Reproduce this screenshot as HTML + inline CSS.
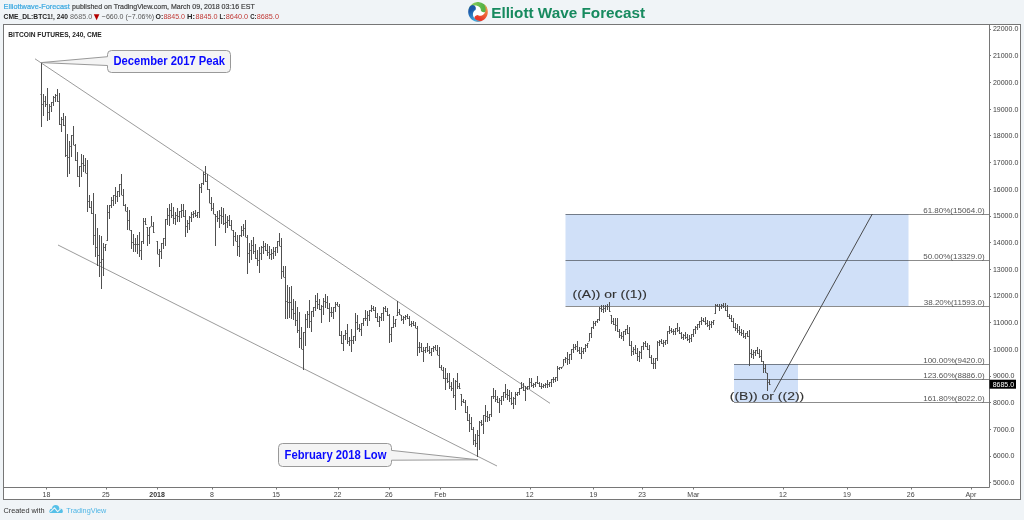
<!DOCTYPE html>
<html><head><meta charset="utf-8"><style>
html,body{margin:0;padding:0;}
body{width:1024px;height:520px;background:#f0f4f7;overflow:hidden;position:relative;font-family:"Liberation Sans", sans-serif;}
svg{position:absolute;left:0;top:0;will-change:transform;}
</style></head><body>
<svg width="1024" height="520" viewBox="0 0 1024 520" font-family='"Liberation Sans", sans-serif'>
<text x="3.6" y="9.4" font-size="8" fill="#3aa8e0" stroke="#3aa8e0" stroke-width="0.22" textLength="66.2" lengthAdjust="spacingAndGlyphs">Elliottwave-Forecast</text>
<text x="72.1" y="9.4" font-size="8" fill="#3a3a3a" stroke="#3a3a3a" stroke-width="0.18" textLength="182.6" lengthAdjust="spacingAndGlyphs">published on TradingView.com, March 09, 2018 03:16 EST</text>
<text x="3.6" y="19.2" font-size="8" fill="#222" font-weight="bold" textLength="64.3" lengthAdjust="spacingAndGlyphs">CME_DL:BTC1!, 240</text>
<text x="70.1" y="19.2" font-size="8" fill="#666" textLength="22.1" lengthAdjust="spacingAndGlyphs">8685.0</text>
<path d="M93.8 14.3H99.4L96.6 20.2Z" fill="#b30000"/>
<text x="101.8" y="19.2" font-size="8" fill="#555" textLength="52.3" lengthAdjust="spacingAndGlyphs">&#8722;660.0 (&#8722;7.06%)</text>
<text x="155.5" y="19.2" font-size="8" fill="#222" font-weight="bold" textLength="7.7" lengthAdjust="spacingAndGlyphs">O:</text>
<text x="163.4" y="19.2" font-size="8" fill="#c03a36" textLength="21.6" lengthAdjust="spacingAndGlyphs">8845.0</text>
<text x="187.1" y="19.2" font-size="8" fill="#222" font-weight="bold" textLength="8" lengthAdjust="spacingAndGlyphs">H:</text>
<text x="195.4" y="19.2" font-size="8" fill="#c03a36" textLength="22.1" lengthAdjust="spacingAndGlyphs">8845.0</text>
<text x="219.5" y="19.2" font-size="8" fill="#222" font-weight="bold" textLength="5.8" lengthAdjust="spacingAndGlyphs">L:</text>
<text x="225.8" y="19.2" font-size="8" fill="#c03a36" textLength="22.4" lengthAdjust="spacingAndGlyphs">8640.0</text>
<text x="250.2" y="19.2" font-size="8" fill="#222" font-weight="bold" textLength="6.3" lengthAdjust="spacingAndGlyphs">C:</text>
<text x="256.8" y="19.2" font-size="8" fill="#c03a36" textLength="22.1" lengthAdjust="spacingAndGlyphs">8685.0</text>
<defs><linearGradient id="gg" gradientUnits="userSpaceOnUse" x1="-9.37" y1="-2.87" x2="5.14" y2="-3.09"><stop offset="0" stop-color="#9ad464"/><stop offset="1" stop-color="#55b347"/></linearGradient><linearGradient id="go" gradientUnits="userSpaceOnUse" x1="-9.37" y1="-2.87" x2="5.14" y2="-3.09"><stop offset="0" stop-color="#f4a04c"/><stop offset="1" stop-color="#e8392a"/></linearGradient><linearGradient id="gb" gradientUnits="userSpaceOnUse" x1="-9.37" y1="-2.87" x2="5.14" y2="-3.09"><stop offset="0" stop-color="#4cc3f0"/><stop offset="1" stop-color="#1c58a8"/></linearGradient></defs><g transform="translate(478 11.9)"><circle r="9.4" fill="#fff"/><path d="M-9.73 -1.19 L-9.55 -2.22 L-9.26 -3.22 L-8.86 -4.18 L-8.37 -5.10 L-7.78 -5.95 L-7.11 -6.75 L-6.35 -7.46 L-5.53 -8.09 L-4.64 -8.63 L-3.70 -9.08 L-2.71 -9.42 L-1.70 -9.65 L-0.67 -9.78 L0.37 -9.79 L1.41 -9.70 L2.43 -9.49 L3.42 -9.18 L4.37 -8.77 L5.28 -8.26 L6.12 -7.65 L6.90 -6.96 L7.60 -6.19 L8.21 -5.35 L8.73 -4.45 L9.02 -3.64 L9.09 -2.78 L8.93 -1.93 L8.56 -1.15 L8.00 -0.50 L7.29 -0.01 L6.48 0.28 L5.62 0.34 L4.77 0.19 L3.99 -0.18 L3.34 -0.74 L2.85 -1.45 L2.85 -1.86 L2.81 -2.29 L2.72 -2.75 L2.57 -3.22 L2.36 -3.69 L2.07 -4.15 L1.71 -4.59 L1.28 -5.01 L0.78 -5.39 L0.22 -5.72 L-0.41 -5.98 L-1.09 -6.18 L-1.82 -6.31 L-2.58 -6.34 L-3.38 -6.29 L-4.19 -6.13 L-5.00 -5.87 L-5.81 -5.51 L-6.60 -5.05 L-7.35 -4.47 L-8.05 -3.80 L-8.69 -3.02 L-9.25 -2.15 L-9.73 -1.19Z" fill="url(#gg)"/><path d="M-9.73 -1.19 L-9.55 -2.22 L-9.26 -3.22 L-8.86 -4.18 L-8.37 -5.10 L-7.78 -5.95 L-7.11 -6.75 L-6.35 -7.46 L-5.53 -8.09 L-4.64 -8.63 L-3.70 -9.08 L-2.71 -9.42 L-1.70 -9.65 L-0.67 -9.78 L0.37 -9.79 L1.41 -9.70 L2.43 -9.49 L3.42 -9.18 L4.37 -8.77 L5.28 -8.26 L6.12 -7.65 L6.90 -6.96 L7.60 -6.19 L8.21 -5.35 L8.73 -4.45 L9.02 -3.64 L9.09 -2.78 L8.93 -1.93 L8.56 -1.15 L8.00 -0.50 L7.29 -0.01 L6.48 0.28 L5.62 0.34 L4.77 0.19 L3.99 -0.18 L3.34 -0.74 L2.85 -1.45 L2.85 -1.86 L2.81 -2.29 L2.72 -2.75 L2.57 -3.22 L2.36 -3.69 L2.07 -4.15 L1.71 -4.59 L1.28 -5.01 L0.78 -5.39 L0.22 -5.72 L-0.41 -5.98 L-1.09 -6.18 L-1.82 -6.31 L-2.58 -6.34 L-3.38 -6.29 L-4.19 -6.13 L-5.00 -5.87 L-5.81 -5.51 L-6.60 -5.05 L-7.35 -4.47 L-8.05 -3.80 L-8.69 -3.02 L-9.25 -2.15 L-9.73 -1.19Z" fill="url(#go)" transform="rotate(120)"/><path d="M-9.73 -1.19 L-9.55 -2.22 L-9.26 -3.22 L-8.86 -4.18 L-8.37 -5.10 L-7.78 -5.95 L-7.11 -6.75 L-6.35 -7.46 L-5.53 -8.09 L-4.64 -8.63 L-3.70 -9.08 L-2.71 -9.42 L-1.70 -9.65 L-0.67 -9.78 L0.37 -9.79 L1.41 -9.70 L2.43 -9.49 L3.42 -9.18 L4.37 -8.77 L5.28 -8.26 L6.12 -7.65 L6.90 -6.96 L7.60 -6.19 L8.21 -5.35 L8.73 -4.45 L9.02 -3.64 L9.09 -2.78 L8.93 -1.93 L8.56 -1.15 L8.00 -0.50 L7.29 -0.01 L6.48 0.28 L5.62 0.34 L4.77 0.19 L3.99 -0.18 L3.34 -0.74 L2.85 -1.45 L2.85 -1.86 L2.81 -2.29 L2.72 -2.75 L2.57 -3.22 L2.36 -3.69 L2.07 -4.15 L1.71 -4.59 L1.28 -5.01 L0.78 -5.39 L0.22 -5.72 L-0.41 -5.98 L-1.09 -6.18 L-1.82 -6.31 L-2.58 -6.34 L-3.38 -6.29 L-4.19 -6.13 L-5.00 -5.87 L-5.81 -5.51 L-6.60 -5.05 L-7.35 -4.47 L-8.05 -3.80 L-8.69 -3.02 L-9.25 -2.15 L-9.73 -1.19Z" fill="url(#gb)" transform="rotate(240)"/></g><text x="491.2" y="17.7" font-size="15.5" fill="#178a5f" font-weight="bold" textLength="154" lengthAdjust="spacingAndGlyphs">Elliott Wave Forecast</text>
<rect x="3.5" y="24.5" width="1017" height="475" fill="#fff" stroke="#767676" stroke-width="1"/>
<path d="M989.5 24.5V487.5M3.5 487.5H989.5" stroke="#767676" stroke-width="1" fill="none"/>
<text x="8.3" y="36.8" font-size="7.8" fill="#222" font-weight="bold" textLength="93.4" lengthAdjust="spacingAndGlyphs">BITCOIN FUTURES, 240, CME</text>
<rect x="565.5" y="214" width="343" height="92" fill="#d0e0f8"/>
<rect x="734" y="364" width="64" height="38" fill="#d0e0f8"/>
<path d="M565.5 214.5H989M565.5 260.5H989M565.5 306.5H989M734 364.5H989M734 379.5H989M734 402.5H989" stroke="#000" stroke-opacity="0.45" stroke-width="1" fill="none"/>
<text x="984.6" y="212.7" font-size="8" fill="#555" text-anchor="end">61.80%(15064.0)</text>
<text x="984.6" y="258.9" font-size="8" fill="#555" text-anchor="end">50.00%(13329.0)</text>
<text x="984.6" y="304.9" font-size="8" fill="#555" text-anchor="end">38.20%(11593.0)</text>
<text x="984.6" y="362.9" font-size="8" fill="#555" text-anchor="end">100.00%(9420.0)</text>
<text x="984.6" y="377.9" font-size="8" fill="#555" text-anchor="end">123.60%(8886.0)</text>
<text x="984.6" y="400.9" font-size="8" fill="#555" text-anchor="end">161.80%(8022.0)</text>
<path d="M35 58.8L550 403.3M58 245L497 466" stroke="#707070" stroke-width="0.7" fill="none"/><path d="M773.8 392.3L872.3 214" stroke="#3a3a3a" stroke-width="0.9" fill="none"/>
<path d="M41.5 62V127M43.5 94V116M45.5 96V107M47.5 88V121M49.5 104V120M51.5 102V112M53.5 96V106M55.5 94V102M57.5 89V102M59.5 93V125M61.5 117V132M63.5 113V126M65.5 116V157M67.5 134V177M69.5 141V174M71.5 135V157M73.5 126V145M75.5 144V161M77.5 152V177M79.5 166V187M81.5 154V177M83.5 155V172M85.5 158V173M87.5 160V212M89.5 195V208M91.5 201V214M93.5 193V245M95.5 214V257M97.5 228V266M99.5 235V277M101.5 236V289M103.5 243V276M105.5 244V251M107.5 205V241M109.5 205V219M111.5 197V208M113.5 195V206M115.5 187V204M117.5 191V202M119.5 184V197M121.5 174V195M123.5 189V206M125.5 204V211M127.5 207V230M129.5 210V230M131.5 230V249M133.5 234V252M135.5 238V252M137.5 235V254M139.5 232V257M141.5 241V260M143.5 218V244M145.5 218V225M147.5 227V246M149.5 227V244M151.5 216V226M153.5 222V233M157.5 241V254M159.5 249V267M161.5 243V259M163.5 238V249M165.5 219V246M167.5 208V225M169.5 204V226M171.5 203V218M173.5 207V224M175.5 212V225M177.5 208V222M179.5 211V222M181.5 204V218M183.5 204V217M185.5 210V237M187.5 220V233M189.5 216V230M191.5 212V222M193.5 211V218M195.5 210V217M197.5 212V218M199.5 184V218M201.5 183V193M203.5 172V185M205.5 166V182M207.5 174V190M209.5 189V203M211.5 197V211M213.5 203V214M215.5 214V246M217.5 211V222M219.5 210V228M221.5 207V224M223.5 208V225M225.5 214V233M227.5 216V228M229.5 215V226M231.5 220V230M233.5 230V246M235.5 232V241M237.5 235V256M239.5 235V257M241.5 226V237M243.5 224V236M245.5 220V237M247.5 235V274M249.5 243V263M251.5 240V260M253.5 237V254M255.5 244V259M257.5 250V266M259.5 247V273M261.5 246V260M263.5 241V254M265.5 243V251M267.5 244V256M269.5 246V259M271.5 249V260M273.5 247V259M275.5 247V256M277.5 241V253M279.5 233V246M281.5 238V279M283.5 266V277M285.5 266V319M287.5 285V319M289.5 287V318M291.5 286V319M293.5 299V320M295.5 301V326M297.5 307V333M299.5 312V348M301.5 327V349M303.5 332V370M305.5 314V346M307.5 311V328M309.5 300V328M311.5 311V332M313.5 307V317M315.5 295V311M317.5 293V309M319.5 299V310M321.5 305V323M323.5 298V315M325.5 294V308M327.5 296V309M329.5 303V322M331.5 307V317M333.5 307V319M335.5 302V312M337.5 302V306M339.5 304V336M341.5 331V344M343.5 335V351M345.5 330V340M347.5 324V344M349.5 337V346M351.5 329V352M353.5 336V344M355.5 313V341M357.5 315V330M359.5 324V332M361.5 323V336M363.5 318V326M365.5 310V321M367.5 311V326M369.5 310V321M371.5 305V312M373.5 306V311M375.5 307V318M377.5 313V322M379.5 316V327M381.5 313V321M383.5 307V321M385.5 306V312M387.5 308V316M389.5 314V343M391.5 327V342M393.5 316V328M395.5 319V327M397.5 301V316M399.5 309V315M401.5 315V321M403.5 316V324M405.5 315V320M407.5 314V319M409.5 316V326M411.5 321V327M413.5 321V326M415.5 322V328M417.5 326V356M419.5 342V353M421.5 343V352M423.5 347V362M425.5 347V353M427.5 343V352M429.5 346V354M431.5 348V356M433.5 346V352M435.5 345V350M437.5 345V355M439.5 347V368M441.5 365V370M443.5 367V379M445.5 368V390M447.5 373V383M449.5 373V389M451.5 382V391M453.5 378V398M455.5 380V410M457.5 373V389M459.5 383V389M461.5 394V406M463.5 399V403M465.5 400V413M467.5 406V421M469.5 414V432M471.5 417V430M473.5 427V445M475.5 434V447M477.5 430V457M479.5 421V450M481.5 420V426M483.5 415V434M485.5 405V422M487.5 411V422M489.5 414V421M491.5 396V417M493.5 388V399M495.5 390V402M497.5 396V403M499.5 398V413M501.5 396V405M503.5 392V401M505.5 384V398M507.5 389V400M509.5 390V402M511.5 392V405M513.5 397V409M515.5 392V405M517.5 392V396M519.5 388V395M521.5 382V389M523.5 383V391M525.5 386V401M527.5 386V390M529.5 378V389M531.5 378V387M533.5 383V388M535.5 382V387M537.5 376V384M539.5 382V387M541.5 383V389M543.5 384V388M545.5 383V388M547.5 380V388M549.5 382V387M551.5 379V387M553.5 377V383M555.5 377V382M557.5 366V381M559.5 367V370M561.5 367V369M563.5 359V366M565.5 357V363M567.5 352V365M569.5 354V364M571.5 349V360M573.5 344V353M575.5 344V350M577.5 341V352M579.5 347V354M581.5 347V359M583.5 348V354M585.5 344V352M587.5 343V348M589.5 333V341M591.5 327V338M593.5 321V329M595.5 321V326M597.5 319V323M599.5 307V321M601.5 305V312M603.5 305V313M605.5 305V312M607.5 304V310M609.5 302V312M611.5 315V324M613.5 318V325M615.5 318V331M617.5 318V332M619.5 329V338M621.5 332V339M623.5 331V341M625.5 329V335M627.5 325V334M629.5 327V346M631.5 341V356M633.5 347V355M635.5 345V354M637.5 348V361M639.5 351V362M641.5 346V359M643.5 342V350M645.5 341V347M647.5 343V350M649.5 345V358M651.5 355V364M653.5 358V369M655.5 358V369M657.5 341V361M659.5 340V346M661.5 339V344M663.5 340V347M665.5 340V345M667.5 331V344M669.5 326V334M671.5 328V333M673.5 329V335M675.5 328V335M677.5 323V332M679.5 327V334M681.5 332V339M683.5 334V340M685.5 332V339M687.5 334V341M689.5 335V343M691.5 334V342M693.5 329V337M695.5 326V334M697.5 324V330M699.5 321V328M701.5 317V325M703.5 318V322M705.5 317V325M707.5 320V327M709.5 321V330M711.5 321V328M713.5 320V325M715.5 304V314M717.5 304V307M719.5 304V311M721.5 304V309M723.5 303V308M725.5 303V311M727.5 305V317M729.5 314V319M731.5 315V322M733.5 318V328M735.5 323V331M737.5 324V333M739.5 326V335M741.5 329V336M743.5 330V338M745.5 333V339M747.5 331V337M749.5 330V366M751.5 349V358M753.5 350V359M755.5 350V356M757.5 347V354M759.5 349V358M761.5 350V362M763.5 361V373M765.5 364V373M767.5 373V391M769.5 379V385" stroke="#505050" stroke-width="1" fill="none"/>
<path d="M40.5 94.5h0.8M41.7 104.5h0.8M42.5 104.5h0.8M43.7 101.5h0.8M44.5 101.5h0.8M45.7 104.5h0.8M46.5 104.5h0.8M47.7 112.5h0.8M48.5 112.5h0.8M49.7 106.5h0.8M50.5 106.5h0.8M51.7 102.5h0.8M52.5 102.5h0.8M53.7 97.5h0.8M54.5 97.5h0.8M55.7 95.5h0.8M56.5 95.5h0.8M57.7 101.5h0.8M58.5 101.5h0.8M59.7 124.5h0.8M60.5 124.5h0.8M61.7 119.5h0.8M62.5 119.5h0.8M63.7 125.5h0.8M64.5 125.5h0.8M65.7 155.5h0.8M66.5 155.5h0.8M67.7 157.5h0.8M68.5 157.5h0.8M69.7 146.5h0.8M70.5 146.5h0.8M71.7 135.5h0.8M72.5 135.5h0.8M73.7 145.5h0.8M74.5 145.5h0.8M75.7 160.5h0.8M76.5 160.5h0.8M77.7 176.5h0.8M78.5 176.5h0.8M79.7 166.5h0.8M80.5 166.5h0.8M81.7 163.5h0.8M82.5 163.5h0.8M83.7 165.5h0.8M84.5 165.5h0.8M85.7 173.5h0.8M86.5 173.5h0.8M87.7 201.5h0.8M88.5 201.5h0.8M89.7 207.5h0.8M90.5 207.5h0.8M91.7 213.5h0.8M92.5 213.5h0.8M93.7 235.5h0.8M94.5 235.5h0.8M95.7 247.5h0.8M96.5 247.5h0.8M97.7 255.5h0.8M98.5 255.5h0.8M99.7 262.5h0.8M100.5 262.5h0.8M101.7 259.5h0.8M102.5 259.5h0.8M103.7 247.5h0.8M104.5 247.5h0.8M105.7 244.5h0.8M106.5 240.5h0.8M107.7 212.5h0.8M108.5 212.5h0.8M109.7 205.5h0.8M110.5 205.5h0.8M111.7 200.5h0.8M112.5 200.5h0.8M113.7 195.5h0.8M114.5 195.5h0.8M115.7 196.5h0.8M116.5 196.5h0.8M117.7 191.5h0.8M118.5 191.5h0.8M119.7 184.5h0.8M120.5 184.5h0.8M121.7 195.5h0.8M122.5 195.5h0.8M123.7 205.5h0.8M124.5 205.5h0.8M125.7 211.5h0.8M126.5 211.5h0.8M127.7 220.5h0.8M128.5 220.5h0.8M129.7 230.5h0.8M130.5 230.5h0.8M131.7 242.5h0.8M132.5 242.5h0.8M133.7 244.5h0.8M134.5 244.5h0.8M135.7 244.5h0.8M136.5 244.5h0.8M137.7 244.5h0.8M138.5 244.5h0.8M139.7 250.5h0.8M140.5 250.5h0.8M141.7 241.5h0.8M142.5 241.5h0.8M143.7 221.5h0.8M144.5 221.5h0.8M145.7 224.5h0.8M146.5 227.5h0.8M147.7 235.5h0.8M148.5 235.5h0.8M149.7 227.5h0.8M150.5 226.5h0.8M151.7 226.5h0.8M152.5 226.5h0.8M153.7 232.5h0.8M156.5 241.5h0.8M157.7 254.5h0.8M158.5 254.5h0.8M159.7 251.5h0.8M160.5 251.5h0.8M161.7 243.5h0.8M162.5 243.5h0.8M163.7 238.5h0.8M164.5 238.5h0.8M165.7 219.5h0.8M166.5 219.5h0.8M167.7 215.5h0.8M168.5 215.5h0.8M169.7 210.5h0.8M170.5 210.5h0.8M171.7 215.5h0.8M172.5 215.5h0.8M173.7 218.5h0.8M174.5 218.5h0.8M175.7 215.5h0.8M176.5 215.5h0.8M177.7 216.5h0.8M178.5 216.5h0.8M179.7 211.5h0.8M180.5 211.5h0.8M181.7 210.5h0.8M182.5 210.5h0.8M183.7 216.5h0.8M184.5 216.5h0.8M185.7 226.5h0.8M186.5 226.5h0.8M187.7 223.5h0.8M188.5 223.5h0.8M189.7 217.5h0.8M190.5 217.5h0.8M191.7 214.5h0.8M192.5 214.5h0.8M193.7 213.5h0.8M194.5 213.5h0.8M195.7 215.5h0.8M196.5 215.5h0.8M197.7 212.5h0.8M198.5 212.5h0.8M199.7 187.5h0.8M200.5 187.5h0.8M201.7 183.5h0.8M202.5 183.5h0.8M203.7 174.5h0.8M204.5 174.5h0.8M205.7 181.5h0.8M206.5 181.5h0.8M207.7 189.5h0.8M208.5 189.5h0.8M209.7 203.5h0.8M210.5 203.5h0.8M211.7 208.5h0.8M212.5 208.5h0.8M213.7 214.5h0.8M214.5 214.5h0.8M215.7 216.5h0.8M216.5 216.5h0.8M217.7 218.5h0.8M218.5 218.5h0.8M219.7 215.5h0.8M220.5 215.5h0.8M221.7 216.5h0.8M222.5 216.5h0.8M223.7 223.5h0.8M224.5 223.5h0.8M225.7 222.5h0.8M226.5 222.5h0.8M227.7 220.5h0.8M228.5 220.5h0.8M229.7 225.5h0.8M230.5 225.5h0.8M231.7 230.5h0.8M232.5 230.5h0.8M233.7 236.5h0.8M234.5 236.5h0.8M235.7 241.5h0.8M236.5 241.5h0.8M237.7 246.5h0.8M238.5 246.5h0.8M239.7 235.5h0.8M240.5 235.5h0.8M241.7 230.5h0.8M242.5 230.5h0.8M243.7 228.5h0.8M244.5 228.5h0.8M245.7 237.5h0.8M246.5 237.5h0.8M247.7 253.5h0.8M248.5 253.5h0.8M249.7 250.5h0.8M250.5 250.5h0.8M251.7 245.5h0.8M252.5 245.5h0.8M253.7 251.5h0.8M254.5 251.5h0.8M255.7 258.5h0.8M256.5 258.5h0.8M257.7 260.5h0.8M258.5 260.5h0.8M259.7 253.5h0.8M260.5 253.5h0.8M261.7 247.5h0.8M262.5 247.5h0.8M263.7 246.5h0.8M264.5 246.5h0.8M265.7 250.5h0.8M266.5 250.5h0.8M267.7 252.5h0.8M268.5 252.5h0.8M269.7 254.5h0.8M270.5 254.5h0.8M271.7 253.5h0.8M272.5 253.5h0.8M273.7 251.5h0.8M274.5 251.5h0.8M275.7 247.5h0.8M276.5 247.5h0.8M277.7 241.5h0.8M278.5 241.5h0.8M279.7 246.5h0.8M280.5 246.5h0.8M281.7 271.5h0.8M282.5 271.5h0.8M283.7 277.5h0.8M284.5 277.5h0.8M285.7 301.5h0.8M286.5 301.5h0.8M287.7 302.5h0.8M288.5 302.5h0.8M289.7 302.5h0.8M290.5 302.5h0.8M291.7 309.5h0.8M292.5 309.5h0.8M293.7 313.5h0.8M294.5 313.5h0.8M295.7 320.5h0.8M296.5 320.5h0.8M297.7 330.5h0.8M298.5 330.5h0.8M299.7 338.5h0.8M300.5 338.5h0.8M301.7 349.5h0.8M302.5 349.5h0.8M303.7 332.5h0.8M304.5 332.5h0.8M305.7 319.5h0.8M306.5 319.5h0.8M307.7 314.5h0.8M308.5 314.5h0.8M309.7 321.5h0.8M310.5 321.5h0.8M311.7 311.5h0.8M312.5 311.5h0.8M313.7 307.5h0.8M314.5 307.5h0.8M315.7 301.5h0.8M316.5 301.5h0.8M317.7 304.5h0.8M318.5 304.5h0.8M319.7 309.5h0.8M320.5 309.5h0.8M321.7 306.5h0.8M322.5 306.5h0.8M323.7 301.5h0.8M324.5 301.5h0.8M325.7 302.5h0.8M326.5 302.5h0.8M327.7 308.5h0.8M328.5 308.5h0.8M329.7 312.5h0.8M330.5 312.5h0.8M331.7 312.5h0.8M332.5 312.5h0.8M333.7 307.5h0.8M334.5 307.5h0.8M335.7 304.5h0.8M336.5 304.5h0.8M337.7 306.5h0.8M338.5 306.5h0.8M339.7 335.5h0.8M340.5 335.5h0.8M341.7 343.5h0.8M342.5 343.5h0.8M343.7 335.5h0.8M344.5 335.5h0.8M345.7 333.5h0.8M346.5 333.5h0.8M347.7 341.5h0.8M348.5 341.5h0.8M349.7 340.5h0.8M350.5 340.5h0.8M351.7 340.5h0.8M352.5 340.5h0.8M353.7 336.5h0.8M354.5 336.5h0.8M355.7 322.5h0.8M356.5 322.5h0.8M357.7 328.5h0.8M358.5 328.5h0.8M359.7 329.5h0.8M360.5 329.5h0.8M361.7 323.5h0.8M362.5 323.5h0.8M363.7 318.5h0.8M364.5 318.5h0.8M365.7 318.5h0.8M366.5 318.5h0.8M367.7 315.5h0.8M368.5 315.5h0.8M369.7 310.5h0.8M370.5 310.5h0.8M371.7 308.5h0.8M372.5 308.5h0.8M373.7 310.5h0.8M374.5 310.5h0.8M375.7 317.5h0.8M376.5 317.5h0.8M377.7 321.5h0.8M378.5 321.5h0.8M379.7 317.5h0.8M380.5 317.5h0.8M381.7 313.5h0.8M382.5 313.5h0.8M383.7 308.5h0.8M384.5 308.5h0.8M385.7 311.5h0.8M386.5 311.5h0.8M387.7 315.5h0.8M388.5 315.5h0.8M389.7 334.5h0.8M390.5 334.5h0.8M391.7 327.5h0.8M392.5 327.5h0.8M393.7 323.5h0.8M394.5 323.5h0.8M395.7 319.5h0.8M396.5 315.5h0.8M397.7 312.5h0.8M398.5 312.5h0.8M399.7 314.5h0.8M400.5 315.5h0.8M401.7 319.5h0.8M402.5 319.5h0.8M403.7 317.5h0.8M404.5 317.5h0.8M405.7 316.5h0.8M406.5 316.5h0.8M407.7 318.5h0.8M408.5 318.5h0.8M409.7 324.5h0.8M410.5 324.5h0.8M411.7 323.5h0.8M412.5 323.5h0.8M413.7 325.5h0.8M414.5 325.5h0.8M415.7 328.5h0.8M416.5 328.5h0.8M417.7 347.5h0.8M418.5 347.5h0.8M419.7 347.5h0.8M420.5 347.5h0.8M421.7 351.5h0.8M422.5 351.5h0.8M423.7 350.5h0.8M424.5 350.5h0.8M425.7 347.5h0.8M426.5 347.5h0.8M427.7 350.5h0.8M428.5 350.5h0.8M429.7 352.5h0.8M430.5 352.5h0.8M431.7 348.5h0.8M432.5 348.5h0.8M433.7 347.5h0.8M434.5 347.5h0.8M435.7 350.5h0.8M436.5 350.5h0.8M437.7 355.5h0.8M438.5 355.5h0.8M439.7 367.5h0.8M440.5 367.5h0.8M441.7 370.5h0.8M442.5 370.5h0.8M443.7 378.5h0.8M444.5 378.5h0.8M445.7 378.5h0.8M446.5 378.5h0.8M447.7 381.5h0.8M448.5 381.5h0.8M449.7 386.5h0.8M450.5 386.5h0.8M451.7 388.5h0.8M452.5 388.5h0.8M453.7 395.5h0.8M454.5 395.5h0.8M455.7 381.5h0.8M456.5 381.5h0.8M457.7 386.5h0.8M458.5 386.5h0.8M459.7 388.5h0.8M460.5 394.5h0.8M461.7 401.5h0.8M462.5 401.5h0.8M463.7 402.5h0.8M464.5 402.5h0.8M465.7 412.5h0.8M466.5 412.5h0.8M467.7 420.5h0.8M468.5 420.5h0.8M469.7 423.5h0.8M470.5 423.5h0.8M471.7 429.5h0.8M472.5 429.5h0.8M473.7 440.5h0.8M474.5 440.5h0.8M475.7 443.5h0.8M476.5 443.5h0.8M477.7 435.5h0.8M478.5 435.5h0.8M479.7 422.5h0.8M480.5 422.5h0.8M481.7 424.5h0.8M482.5 424.5h0.8M483.7 415.5h0.8M484.5 415.5h0.8M485.7 416.5h0.8M486.5 416.5h0.8M487.7 417.5h0.8M488.5 417.5h0.8M489.7 414.5h0.8M490.5 414.5h0.8M491.7 396.5h0.8M492.5 396.5h0.8M493.7 396.5h0.8M494.5 396.5h0.8M495.7 399.5h0.8M496.5 399.5h0.8M497.7 402.5h0.8M498.5 402.5h0.8M499.7 400.5h0.8M500.5 400.5h0.8M501.7 396.5h0.8M502.5 396.5h0.8M503.7 392.5h0.8M504.5 392.5h0.8M505.7 394.5h0.8M506.5 394.5h0.8M507.7 395.5h0.8M508.5 395.5h0.8M509.7 398.5h0.8M510.5 398.5h0.8M511.7 403.5h0.8M512.5 403.5h0.8M513.7 398.5h0.8M514.5 398.5h0.8M515.7 394.5h0.8M516.5 394.5h0.8M517.7 392.5h0.8M518.5 392.5h0.8M519.7 388.5h0.8M520.5 388.5h0.8M521.7 387.5h0.8M522.5 387.5h0.8M523.7 390.5h0.8M524.5 390.5h0.8M525.7 388.5h0.8M526.5 388.5h0.8M527.7 386.5h0.8M528.5 386.5h0.8M529.7 382.5h0.8M530.5 382.5h0.8M531.7 385.5h0.8M532.5 385.5h0.8M533.7 384.5h0.8M534.5 384.5h0.8M535.7 382.5h0.8M536.5 382.5h0.8M537.7 383.5h0.8M538.5 383.5h0.8M539.7 386.5h0.8M540.5 386.5h0.8M541.7 386.5h0.8M542.5 386.5h0.8M543.7 385.5h0.8M544.5 385.5h0.8M545.7 384.5h0.8M546.5 384.5h0.8M547.7 384.5h0.8M548.5 384.5h0.8M549.7 382.5h0.8M550.5 382.5h0.8M551.7 379.5h0.8M552.5 379.5h0.8M553.7 379.5h0.8M554.5 379.5h0.8M555.7 377.5h0.8M556.5 377.5h0.8M557.7 368.5h0.8M558.5 368.5h0.8M559.7 367.5h0.8M560.5 367.5h0.8M561.7 367.5h0.8M562.5 366.5h0.8M563.7 359.5h0.8M564.5 359.5h0.8M565.7 358.5h0.8M566.5 358.5h0.8M567.7 359.5h0.8M568.5 359.5h0.8M569.7 354.5h0.8M570.5 354.5h0.8M571.7 349.5h0.8M572.5 349.5h0.8M573.7 347.5h0.8M574.5 347.5h0.8M575.7 346.5h0.8M576.5 346.5h0.8M577.7 350.5h0.8M578.5 350.5h0.8M579.7 353.5h0.8M580.5 353.5h0.8M581.7 351.5h0.8M582.5 351.5h0.8M583.7 348.5h0.8M584.5 348.5h0.8M585.7 345.5h0.8M586.5 345.5h0.8M587.7 343.5h0.8M588.5 341.5h0.8M589.7 333.5h0.8M590.5 333.5h0.8M591.7 327.5h0.8M592.5 327.5h0.8M593.7 323.5h0.8M594.5 323.5h0.8M595.7 321.5h0.8M596.5 321.5h0.8M597.7 319.5h0.8M598.5 319.5h0.8M599.7 308.5h0.8M600.5 308.5h0.8M601.7 309.5h0.8M602.5 309.5h0.8M603.7 308.5h0.8M604.5 308.5h0.8M605.7 306.5h0.8M606.5 306.5h0.8M607.7 306.5h0.8M608.5 306.5h0.8M609.7 311.5h0.8M610.5 315.5h0.8M611.7 321.5h0.8M612.5 321.5h0.8M613.7 324.5h0.8M614.5 324.5h0.8M615.7 325.5h0.8M616.5 325.5h0.8M617.7 331.5h0.8M618.5 331.5h0.8M619.7 335.5h0.8M620.5 335.5h0.8M621.7 336.5h0.8M622.5 336.5h0.8M623.7 331.5h0.8M624.5 331.5h0.8M625.7 329.5h0.8M626.5 329.5h0.8M627.7 333.5h0.8M628.5 333.5h0.8M629.7 345.5h0.8M630.5 345.5h0.8M631.7 351.5h0.8M632.5 351.5h0.8M633.7 349.5h0.8M634.5 349.5h0.8M635.7 353.5h0.8M636.5 353.5h0.8M637.7 356.5h0.8M638.5 356.5h0.8M639.7 352.5h0.8M640.5 352.5h0.8M641.7 346.5h0.8M642.5 346.5h0.8M643.7 343.5h0.8M644.5 343.5h0.8M645.7 346.5h0.8M646.5 346.5h0.8M647.7 349.5h0.8M648.5 349.5h0.8M649.7 357.5h0.8M650.5 357.5h0.8M651.7 363.5h0.8M652.5 363.5h0.8M653.7 363.5h0.8M654.5 363.5h0.8M655.7 358.5h0.8M656.5 358.5h0.8M657.7 342.5h0.8M658.5 342.5h0.8M659.7 341.5h0.8M660.5 341.5h0.8M661.7 343.5h0.8M662.5 343.5h0.8M663.7 342.5h0.8M664.5 342.5h0.8M665.7 340.5h0.8M666.5 340.5h0.8M667.7 331.5h0.8M668.5 331.5h0.8M669.7 330.5h0.8M670.5 330.5h0.8M671.7 331.5h0.8M672.5 331.5h0.8M673.7 331.5h0.8M674.5 331.5h0.8M675.7 328.5h0.8M676.5 328.5h0.8M677.7 330.5h0.8M678.5 330.5h0.8M679.7 333.5h0.8M680.5 333.5h0.8M681.7 337.5h0.8M682.5 337.5h0.8M683.7 335.5h0.8M684.5 335.5h0.8M685.7 337.5h0.8M686.5 337.5h0.8M687.7 339.5h0.8M688.5 339.5h0.8M689.7 338.5h0.8M690.5 338.5h0.8M691.7 334.5h0.8M692.5 334.5h0.8M693.7 329.5h0.8M694.5 329.5h0.8M695.7 327.5h0.8M696.5 327.5h0.8M697.7 324.5h0.8M698.5 324.5h0.8M699.7 321.5h0.8M700.5 321.5h0.8M701.7 320.5h0.8M702.5 320.5h0.8M703.7 321.5h0.8M704.5 321.5h0.8M705.7 323.5h0.8M706.5 323.5h0.8M707.7 325.5h0.8M708.5 325.5h0.8M709.7 324.5h0.8M710.5 324.5h0.8M711.7 322.5h0.8M712.5 322.5h0.8M713.7 320.5h0.8M714.5 313.5h0.8M715.7 305.5h0.8M716.5 305.5h0.8M717.7 306.5h0.8M718.5 306.5h0.8M719.7 306.5h0.8M720.5 306.5h0.8M721.7 305.5h0.8M722.5 305.5h0.8M723.7 306.5h0.8M724.5 306.5h0.8M725.7 310.5h0.8M726.5 310.5h0.8M727.7 316.5h0.8M728.5 316.5h0.8M729.7 318.5h0.8M730.5 318.5h0.8M731.7 321.5h0.8M732.5 321.5h0.8M733.7 327.5h0.8M734.5 327.5h0.8M735.7 328.5h0.8M736.5 328.5h0.8M737.7 330.5h0.8M738.5 330.5h0.8M739.7 332.5h0.8M740.5 332.5h0.8M741.7 333.5h0.8M742.5 333.5h0.8M743.7 336.5h0.8M744.5 336.5h0.8M745.7 333.5h0.8M746.5 333.5h0.8M747.7 336.5h0.8M748.5 336.5h0.8M749.7 353.5h0.8M750.5 353.5h0.8M751.7 354.5h0.8M752.5 354.5h0.8M753.7 352.5h0.8M754.5 352.5h0.8M755.7 350.5h0.8M756.5 350.5h0.8M757.7 353.5h0.8M758.5 353.5h0.8M759.7 356.5h0.8M760.5 356.5h0.8M761.7 361.5h0.8M762.5 361.5h0.8M763.7 368.5h0.8M764.5 368.5h0.8M765.7 372.5h0.8M766.5 373.5h0.8M767.7 382.5h0.8M768.5 382.5h0.8M769.7 384.5h0.8" stroke="#505050" stroke-width="1" fill="none"/>
<text stroke="#333" stroke-width="0.12" x="572.6" y="297.8" font-size="11.7" fill="#333" textLength="74.2" lengthAdjust="spacingAndGlyphs">((A)) or ((1))</text>
<text stroke="#333" stroke-width="0.12" x="729.8" y="400" font-size="11.6" fill="#333" textLength="74.4" lengthAdjust="spacingAndGlyphs">((B)) or ((2))</text>
<path d="M111.5 50.5H226.5a4 4 0 0 1 4 4V68.5a4 4 0 0 1-4 4H111.5a4 4 0 0 1-4-4V65.5L41 62.6L107.5 56.7V54.5a4 4 0 0 1 4-4Z" fill="#f4f4f4" stroke="#999" stroke-width="1"/>
<text x="113.4" y="65" font-size="12" fill="#0a0aff" font-weight="bold" textLength="111.6" lengthAdjust="spacingAndGlyphs">December 2017 Peak</text>
<path d="M282.5 443.5H387.5a4 4 0 0 1 4 4V450.4L478 459.8L391.5 460.2V462.5a4 4 0 0 1-4 4H282.5a4 4 0 0 1-4-4V447.5a4 4 0 0 1 4-4Z" fill="#f4f4f4" stroke="#999" stroke-width="1"/>
<text x="284.6" y="458.8" font-size="12" fill="#0a0aff" font-weight="bold" textLength="101.8" lengthAdjust="spacingAndGlyphs">February 2018 Low</text>
<text x="992.9" y="31.4" font-size="7.4" fill="#3c3c3c" textLength="25.4" lengthAdjust="spacingAndGlyphs">22000.0</text>
<path d="M989 29.5h2" stroke="#777"/>
<text x="992.9" y="58.1" font-size="7.4" fill="#3c3c3c" textLength="25.4" lengthAdjust="spacingAndGlyphs">21000.0</text>
<path d="M989 55.5h2" stroke="#777"/>
<text x="992.9" y="84.8" font-size="7.4" fill="#3c3c3c" textLength="25.4" lengthAdjust="spacingAndGlyphs">20000.0</text>
<path d="M989 82.5h2" stroke="#777"/>
<text x="992.9" y="111.5" font-size="7.4" fill="#3c3c3c" textLength="25.4" lengthAdjust="spacingAndGlyphs">19000.0</text>
<path d="M989 109.5h2" stroke="#777"/>
<text x="992.9" y="138.2" font-size="7.4" fill="#3c3c3c" textLength="25.4" lengthAdjust="spacingAndGlyphs">18000.0</text>
<path d="M989 135.5h2" stroke="#777"/>
<text x="992.9" y="164.8" font-size="7.4" fill="#3c3c3c" textLength="25.4" lengthAdjust="spacingAndGlyphs">17000.0</text>
<path d="M989 162.5h2" stroke="#777"/>
<text x="992.9" y="191.5" font-size="7.4" fill="#3c3c3c" textLength="25.4" lengthAdjust="spacingAndGlyphs">16000.0</text>
<path d="M989 189.5h2" stroke="#777"/>
<text x="992.9" y="218.2" font-size="7.4" fill="#3c3c3c" textLength="25.4" lengthAdjust="spacingAndGlyphs">15000.0</text>
<path d="M989 216.5h2" stroke="#777"/>
<text x="992.9" y="244.9" font-size="7.4" fill="#3c3c3c" textLength="25.4" lengthAdjust="spacingAndGlyphs">14000.0</text>
<path d="M989 242.5h2" stroke="#777"/>
<text x="992.9" y="271.6" font-size="7.4" fill="#3c3c3c" textLength="25.4" lengthAdjust="spacingAndGlyphs">13000.0</text>
<path d="M989 269.5h2" stroke="#777"/>
<text x="992.9" y="298.2" font-size="7.4" fill="#3c3c3c" textLength="25.4" lengthAdjust="spacingAndGlyphs">12000.0</text>
<path d="M989 296.5h2" stroke="#777"/>
<text x="992.9" y="324.9" font-size="7.4" fill="#3c3c3c" textLength="25.4" lengthAdjust="spacingAndGlyphs">11000.0</text>
<path d="M989 322.5h2" stroke="#777"/>
<text x="992.9" y="351.6" font-size="7.4" fill="#3c3c3c" textLength="25.4" lengthAdjust="spacingAndGlyphs">10000.0</text>
<path d="M989 349.5h2" stroke="#777"/>
<text x="992.9" y="378.3" font-size="7.4" fill="#3c3c3c" textLength="21.6" lengthAdjust="spacingAndGlyphs">9000.0</text>
<path d="M989 376.5h2" stroke="#777"/>
<text x="992.9" y="405.0" font-size="7.4" fill="#3c3c3c" textLength="21.6" lengthAdjust="spacingAndGlyphs">8000.0</text>
<path d="M989 402.5h2" stroke="#777"/>
<text x="992.9" y="431.6" font-size="7.4" fill="#3c3c3c" textLength="21.6" lengthAdjust="spacingAndGlyphs">7000.0</text>
<path d="M989 429.5h2" stroke="#777"/>
<text x="992.9" y="458.3" font-size="7.4" fill="#3c3c3c" textLength="21.6" lengthAdjust="spacingAndGlyphs">6000.0</text>
<path d="M989 456.5h2" stroke="#777"/>
<text x="992.9" y="485.0" font-size="7.4" fill="#3c3c3c" textLength="21.6" lengthAdjust="spacingAndGlyphs">5000.0</text>
<path d="M989 482.5h2" stroke="#777"/>
<rect x="989.5" y="379.7" width="26.5" height="9" fill="#000"/>
<text x="992.7" y="387" font-size="7" fill="#fff">8685.0</text>
<text x="46.4" y="496.7" font-size="7" fill="#444" text-anchor="middle">18</text>
<path d="M46.5 488v1.5" stroke="#777"/>
<text x="105.8" y="496.7" font-size="7" fill="#444" text-anchor="middle">25</text>
<path d="M106.5 488v1.5" stroke="#777"/>
<text x="157.1" y="496.7" font-size="7" fill="#333" font-weight="bold" text-anchor="middle">2018</text>
<path d="M157.5 488v1.5" stroke="#777"/>
<text x="211.9" y="496.7" font-size="7" fill="#444" text-anchor="middle">8</text>
<path d="M212.5 488v1.5" stroke="#777"/>
<text x="276.1" y="496.7" font-size="7" fill="#444" text-anchor="middle">15</text>
<path d="M276.5 488v1.5" stroke="#777"/>
<text x="337.6" y="496.7" font-size="7" fill="#444" text-anchor="middle">22</text>
<path d="M338.5 488v1.5" stroke="#777"/>
<text x="388.8" y="496.7" font-size="7" fill="#444" text-anchor="middle">26</text>
<path d="M389.5 488v1.5" stroke="#777"/>
<text x="440.4" y="496.7" font-size="7" fill="#444" text-anchor="middle">Feb</text>
<path d="M440.5 488v1.5" stroke="#777"/>
<text x="529.7" y="496.7" font-size="7" fill="#444" text-anchor="middle">12</text>
<path d="M530.5 488v1.5" stroke="#777"/>
<text x="593.4" y="496.7" font-size="7" fill="#444" text-anchor="middle">19</text>
<path d="M593.5 488v1.5" stroke="#777"/>
<text x="642.1" y="496.7" font-size="7" fill="#444" text-anchor="middle">23</text>
<path d="M642.5 488v1.5" stroke="#777"/>
<text x="693.4" y="496.7" font-size="7" fill="#444" text-anchor="middle">Mar</text>
<path d="M693.5 488v1.5" stroke="#777"/>
<text x="783" y="496.7" font-size="7" fill="#444" text-anchor="middle">12</text>
<path d="M783.5 488v1.5" stroke="#777"/>
<text x="847" y="496.7" font-size="7" fill="#444" text-anchor="middle">19</text>
<path d="M847.5 488v1.5" stroke="#777"/>
<text x="910.7" y="496.7" font-size="7" fill="#444" text-anchor="middle">26</text>
<path d="M911.5 488v1.5" stroke="#777"/>
<text x="970.9" y="496.7" font-size="7" fill="#444" text-anchor="middle">Apr</text>
<path d="M971.5 488v1.5" stroke="#777"/>
<text x="3.4" y="513" font-size="7.6" fill="#333" textLength="41.2" lengthAdjust="spacingAndGlyphs">Created with</text>
<g fill="#56c0e8"><circle cx="51.6" cy="510.9" r="2.1"/><circle cx="55.7" cy="508.7" r="3.6"/><circle cx="60.4" cy="510.8" r="2.3"/><rect x="49.5" y="510.6" width="13.2" height="2.5" rx="1"/></g>
<path d="M50.4 511.9L54.5 507.9L57.6 511.6L60.8 508.6" stroke="#f0f4f7" stroke-width="1.05" fill="none" stroke-linejoin="round"/>
<text x="66.3" y="513" font-size="7.6" fill="#4fb6e6" textLength="40" lengthAdjust="spacingAndGlyphs">TradingView</text>
</svg>
</body></html>
